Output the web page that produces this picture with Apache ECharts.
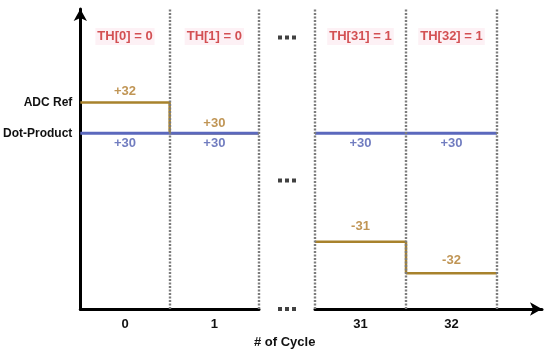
<!DOCTYPE html>
<html>
<head>
<meta charset="utf-8">
<script src="https://cdn.jsdelivr.net/npm/echarts@6/dist/echarts.min.js"></script>
<style>html,body{margin:0;padding:0;background:#fff;}#c{width:550px;height:354px;}</style>
</head>
<body>
<div id="c"></div>
<script>
// ---- data ----
const cycles = ['0', '1', '31', '32'];
const thLabels = ['TH[0] = 0', 'TH[1] = 0', 'TH[31] = 1', 'TH[32] = 1'];
const adcRef = [32, 30, -31, -32];
const dotProduct = [30, 30, 30, 30];
// schematic heights (0..100 scale) of each value in the diagram
const adcRefLevel = [68.8, 58.6, 22.4, 11.9];
const dotLevel = [58.6, 58.6, 58.6, 58.6];
const thLevel = 90.8;
const ellipsisLevels = [90.5, 42.8, 0];
const yAxisNames = ['ADC Ref', 'Dot-Product'];
const xTitle = '# of Cycle';

// ---- styles ----
const FONT = '"Liberation Sans", Arial, sans-serif';
const BROWN = '#a8822c';
const BROWN_TXT = '#b07a2a';
const BLUE = '#5b68bd';
const BLUE_TXT = '#4d5cb0';
const RED = '#c8282b';
const adcLabelGap = [4, 3, 8, 6];
const dotLabelGap = [3, 3, 3, 3];

const fmt = v => (v > 0 ? '+' + v : String(v));

function stepData(idxs, levels) {
  const d = [];
  idxs.forEach((ci, k) => { d.push([k, levels[ci]]); d.push([k + 1, levels[ci]]); });
  return d;
}
function labelData(idxs, levels, values, gaps, pos, color) {
  return idxs.map((ci, k) => ({
    value: [k + 0.5, levels[ci]],
    label: { show: true, position: pos, distance: gaps[ci], formatter: fmt(values[ci]), color: color,
             fontSize: 13, fontWeight: 'bold', fontFamily: FONT }
  }));
}
function thData(idxs) {
  return idxs.map((ci, k) => ({
    value: [k + 0.5, thLevel],
    label: { show: true, position: 'inside', formatter: thLabels[ci], color: RED, fontSize: 13,
             fontWeight: 'bold', fontFamily: FONT, backgroundColor: '#fdeef3', padding: [2, 2] }
  }));
}
const dotted = (xs) => ({
  silent: true, symbol: ['none', 'none'], label: { show: false },
  lineStyle: { type: [2, 1.5], color: '#7c7c7c', width: 2.4 },
  data: xs.map(x => ({ xAxis: x }))
});

const groupA = [0, 1];
const groupB = [2, 3];
const axisBlack = { color: '#000', width: 3 };
const tickLabel = { fontSize: 13, fontWeight: 'bold', color: '#111', fontFamily: FONT, margin: 9 };
const hidden = { type: 'value', show: false, min: 0, max: 100 };
const invisible = { color: 'rgba(0,0,0,0)' };

const option = {
  animation: false,
  backgroundColor: '#fff',
  title: { text: xTitle, left: 254, top: 336, padding: 0,
           textStyle: { fontSize: 13, fontWeight: 'bold', color: '#111', fontFamily: FONT } },
  grid: [
    { left: 78, top: 9, width: 181, height: 300 },
    { left: 259, top: 9, width: 56, height: 300 },
    { left: 315, top: 9, width: 227, height: 300 }
  ],
  xAxis: [
    { gridIndex: 0, type: 'value', min: 0, max: 2,
      axisLine: { show: true, onZero: false, lineStyle: axisBlack },
      axisTick: { show: false }, splitLine: { show: false },
      axisLabel: Object.assign({ customValues: [0.5, 1.5], formatter: v => cycles[groupA[Math.floor(v)]] }, tickLabel) },
    { gridIndex: 1, type: 'value', min: 0, max: 1, show: false },
    { gridIndex: 2, type: 'value', min: 0, max: 227 / 91,
      axisLine: { show: true, onZero: false, lineStyle: axisBlack, symbol: ['none', 'arrow'], symbolSize: [10, 12] },
      axisTick: { show: false }, splitLine: { show: false },
      axisLabel: Object.assign({ customValues: [0.5, 1.5], formatter: v => cycles[groupB[Math.floor(v)]] }, tickLabel) }
  ],
  yAxis: [
    { gridIndex: 0, type: 'value', min: 0, max: 100,
      axisLine: { show: true, onZero: false, lineStyle: axisBlack, symbol: ['none', 'arrow'], symbolSize: [10, 12] },
      axisTick: { show: false }, splitLine: { show: false },
      axisLabel: { customValues: [adcRefLevel[0], dotLevel[0]],
                   formatter: v => (v === adcRefLevel[0] ? yAxisNames[0] : yAxisNames[1]),
                   fontSize: 12, fontWeight: 'bold', color: '#111', fontFamily: FONT, margin: 8 } },
    Object.assign({ gridIndex: 1 }, hidden),
    Object.assign({ gridIndex: 2 }, hidden)
  ],
  series: [
    { type: 'line', xAxisIndex: 0, yAxisIndex: 0, data: stepData(groupA, adcRefLevel), symbol: 'none',
      lineStyle: { color: BROWN, width: 2.5 }, z: 2 },
    { type: 'line', xAxisIndex: 0, yAxisIndex: 0, data: [[0, dotLevel[0]], [2, dotLevel[1]]], symbol: 'none',
      lineStyle: { color: BLUE, width: 3 }, z: 3, markLine: dotted([1, 2]) },
    { type: 'line', xAxisIndex: 2, yAxisIndex: 2, data: stepData([0, 1], groupB.map(i => adcRefLevel[i])), symbol: 'none',
      lineStyle: { color: BROWN, width: 2.5 }, z: 2 },
    { type: 'line', xAxisIndex: 2, yAxisIndex: 2, data: [[0, dotLevel[2]], [2, dotLevel[3]]], symbol: 'none',
      lineStyle: { color: BLUE, width: 3 }, z: 3, markLine: dotted([0, 1, 2]) },
    { type: 'scatter', xAxisIndex: 0, yAxisIndex: 0, symbolSize: 1, itemStyle: invisible, z: 5,
      data: labelData(groupA, adcRefLevel, adcRef, adcLabelGap, 'top', BROWN_TXT) },
    { type: 'scatter', xAxisIndex: 2, yAxisIndex: 2, symbolSize: 1, itemStyle: invisible, z: 5,
      data: labelData(groupB, adcRefLevel, adcRef, adcLabelGap, 'top', BROWN_TXT) },
    { type: 'scatter', xAxisIndex: 0, yAxisIndex: 0, symbolSize: 1, itemStyle: invisible, z: 5,
      data: labelData(groupA, dotLevel, dotProduct, dotLabelGap, 'bottom', BLUE_TXT) },
    { type: 'scatter', xAxisIndex: 2, yAxisIndex: 2, symbolSize: 1, itemStyle: invisible, z: 5,
      data: labelData(groupB, dotLevel, dotProduct, dotLabelGap, 'bottom', BLUE_TXT) },
    { type: 'scatter', xAxisIndex: 0, yAxisIndex: 0, symbolSize: 1, itemStyle: invisible, z: 5, data: thData(groupA) },
    { type: 'scatter', xAxisIndex: 2, yAxisIndex: 2, symbolSize: 1, itemStyle: invisible, z: 5, data: thData(groupB) },
    { type: 'scatter', xAxisIndex: 1, yAxisIndex: 1, z: 5,
      symbol: 'path://M0,0h4v4h-4z M7,0h4v4h-4z M14,0h4v4h-4z', symbolSize: [18, 4],
      itemStyle: { color: '#111' }, data: ellipsisLevels.map(l => [0.5, l]) }
  ]
};

const chart = echarts.init(document.getElementById('c'), null, { renderer: 'canvas' });
chart.setOption(option);
</script>
</body>
</html>
